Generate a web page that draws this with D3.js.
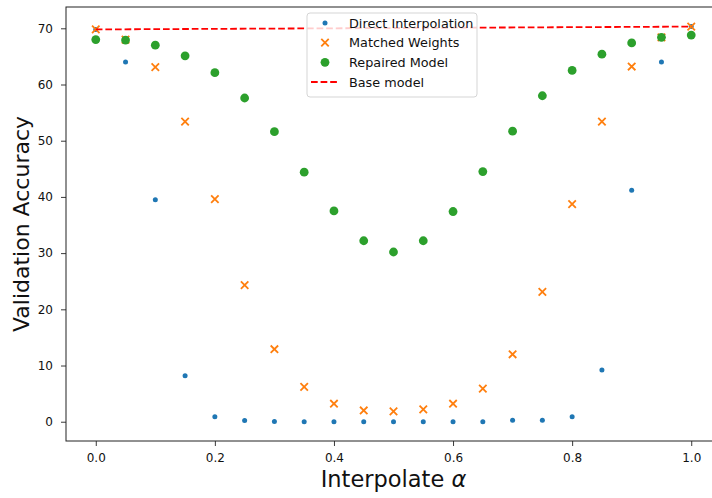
<!DOCTYPE html>
<meta charset="utf-8">
<style>
  body { margin: 0; background: white; }
  text { font-family: "DejaVu Sans", sans-serif; }
</style>
<script src="https://d3js.org/d3.v7.min.js"></script>
<div id="chart"></div>
<script>

// interpolation coefficients
var alphas = [0.00, 0.05, 0.10, 0.15, 0.20, 0.25, 0.30, 0.35, 0.40, 0.45, 0.50,
              0.55, 0.60, 0.65, 0.70, 0.75, 0.80, 0.85, 0.90, 0.95, 1.00];

// series
var directInterp = [69.8, 64.0, 39.5, 8.2, 0.9, 0.2, 0.05, 0.0, 0.0, 0.0, 0.0,
                    0.0, 0.0, 0.0, 0.25, 0.25, 0.9, 9.2, 41.2, 64.0, 70.3];
var matchedWeights = [69.8, 68.0, 63.1, 53.4, 39.6, 24.3, 12.9, 6.2, 3.2, 2.0, 1.85,
                      2.2, 3.2, 5.9, 12.0, 23.1, 38.7, 53.4, 63.2, 68.4, 70.3];
var repairedModel = [68.0, 67.9, 67.0, 65.1, 62.1, 57.6, 51.6, 44.4, 37.5, 32.2, 30.2,
                     32.2, 37.4, 44.5, 51.7, 58.0, 62.5, 65.4, 67.4, 68.4, 68.8];
var baseAlpha = [0, 1];
var baseModel = [69.8, 70.3];

var xTicks = [0.0, 0.2, 0.4, 0.6, 0.8, 1.0];
var yTicks = [0, 10, 20, 30, 40, 50, 60, 70];

var legendLabels = ["Direct Interpolation", "Matched Weights", "Repaired Model", "Base model"];

var blue = "#1f77b4", orange = "#ff7f0e", green = "#2ca02c", red = "#ff0000";

// axes box (right edge falls outside the 712px picture, like the original crop)
var W = 712, H = 498;
var axL = 66, axR = 721, axT = 7, axB = 441;

var svg = d3.select("#chart").append("svg")
    .attr("width", W)
    .attr("height", H);

var x = d3.scaleLinear().domain([-0.05, 1.05]).range([axL, axR]);
var y = d3.scaleLinear().domain([-3.43, 73.79]).range([axB, axT]);

// points
function pts(vals) {
  return alphas.map(function(a, i) { return {a: a, v: vals[i]}; });
}

svg.append("g").selectAll("circle")
  .data(pts(directInterp))
  .enter().append("circle")
    .attr("cx", function(d) { return x(d.a); })
    .attr("cy", function(d) { return y(d.v); })
    .attr("r", 2.5)
    .attr("fill", blue);

var xSym = d3.symbol().type(d3.symbolX).size(38);
svg.append("g").selectAll("path")
  .data(pts(matchedWeights))
  .enter().append("path")
    .attr("d", xSym)
    .attr("transform", function(d) { return "translate(" + x(d.a) + "," + y(d.v) + ")"; })
    .attr("fill", "none")
    .attr("stroke", orange)
    .attr("stroke-width", 1.8);

svg.append("g").selectAll("circle")
  .data(pts(repairedModel))
  .enter().append("circle")
    .attr("cx", function(d) { return x(d.a); })
    .attr("cy", function(d) { return y(d.v); })
    .attr("r", 4.4)
    .attr("fill", green);

svg.append("path")
  .datum(baseAlpha.map(function(a, i) { return {a: a, v: baseModel[i]}; }))
  .attr("d", d3.line().x(function(d) { return x(d.a); }).y(function(d) { return y(d.v); }))
  .attr("fill", "none")
  .attr("stroke", red)
  .attr("stroke-width", 1.8)
  .attr("stroke-dasharray", "6.7,2.9");

// axes
var xAxis = svg.append("g")
  .attr("transform", "translate(0," + axB + ")")
  .call(d3.axisBottom(x).tickValues(xTicks).tickFormat(d3.format(".1f"))
        .tickSize(5).tickPadding(7.5).tickSizeOuter(0));
var yAxis = svg.append("g")
  .attr("transform", "translate(" + axL + ",0)")
  .call(d3.axisLeft(y).tickValues(yTicks).tickFormat(d3.format("d"))
        .tickSize(5).tickPadding(8).tickSizeOuter(0));

[xAxis, yAxis].forEach(function(g) {
  g.select(".domain").remove();
  g.selectAll("text").attr("font-size", 12).attr("fill", "#111")
    .style("font-family", "DejaVu Sans");
  g.selectAll("line").attr("stroke", "#222").attr("stroke-width", 0.9);
});

// spines
svg.append("rect")
  .attr("x", axL).attr("y", axT)
  .attr("width", axR - axL).attr("height", axB - axT)
  .attr("fill", "none")
  .attr("stroke", "#222")
  .attr("stroke-width", 1);

// axis labels
var xl = svg.append("text")
  .attr("x", (axL + axR) / 2)
  .attr("y", 487)
  .attr("text-anchor", "middle")
  .attr("font-size", 22.5)
  .attr("fill", "#111");
xl.append("tspan").text("Interpolate ");
xl.append("tspan").attr("font-style", "italic").text("α");

svg.append("text")
  .attr("transform", "translate(29," + ((axT + axB) / 2) + ") rotate(-90)")
  .attr("text-anchor", "middle")
  .attr("font-size", 22)
  .attr("fill", "#111")
  .text("Validation Accuracy");

// legend
var lg = svg.append("g");
lg.append("rect")
  .attr("x", 307).attr("y", 13)
  .attr("width", 170).attr("height", 84)
  .attr("rx", 3)
  .attr("fill", "white").attr("fill-opacity", 0.8)
  .attr("stroke", "#d5d5d5");

var rowY = d3.scalePoint().domain(legendLabels).range([23, 82]);
var mx = 325;

lg.append("circle").attr("cx", mx).attr("cy", rowY(legendLabels[0])).attr("r", 2.5).attr("fill", blue);
lg.append("path").attr("d", xSym)
  .attr("transform", "translate(" + mx + "," + rowY(legendLabels[1]) + ")")
  .attr("fill", "none").attr("stroke", orange).attr("stroke-width", 1.8);
lg.append("circle").attr("cx", mx).attr("cy", rowY(legendLabels[2])).attr("r", 4.4).attr("fill", green);
lg.append("line")
  .attr("x1", 311).attr("x2", 339)
  .attr("y1", rowY(legendLabels[3])).attr("y2", rowY(legendLabels[3]))
  .attr("stroke", red).attr("stroke-width", 1.8)
  .attr("stroke-dasharray", "6.7,2.9");

lg.selectAll(".lt")
  .data(legendLabels)
  .enter().append("text")
    .attr("class", "lt")
    .attr("x", 349)
    .attr("y", function(d) { return rowY(d); })
    .attr("dy", "0.36em")
    .attr("font-size", 12.8)
    .attr("fill", "#111")
    .text(function(d) { return d; });

</script>
